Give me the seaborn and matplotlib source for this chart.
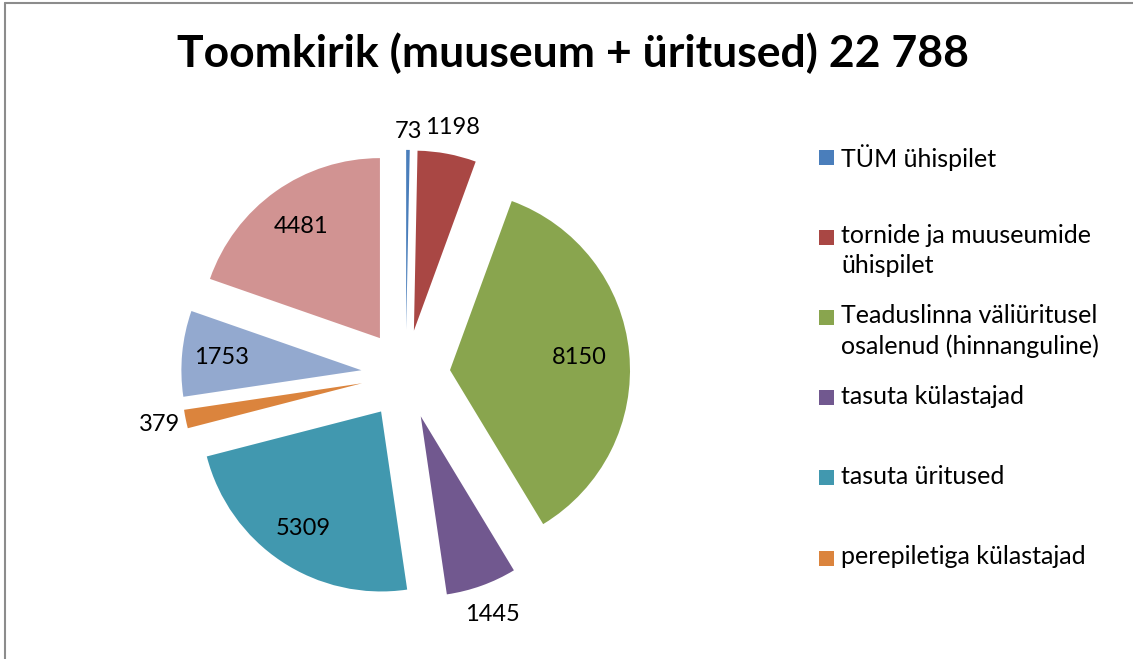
import numpy as np
import matplotlib
matplotlib.use("Agg")
import matplotlib.pyplot as plt
import seaborn as sns
from matplotlib.patches import Rectangle
from matplotlib.lines import Line2D

sns.set_theme(style="white")
plt.rcParams['font.family'] = ['Lato', 'DejaVu Sans']

title = "Toomkirik (muuseum + üritused) 22 788"
categories = ["TÜM ühispilet",
              "tornide ja muuseumide\nühispilet",
              "Teaduslinna väliüritusel\nosalenud (hinnanguline)",
              "tasuta külastajad",
              "tasuta üritused",
              "perepiletiga külastajad",
              "muu 1",
              "muu 2"]
values = [73, 1198, 8150, 1445, 5309, 379, 1753, 4481]
colors = ["#4A7EBB", "#A94744", "#89A54E", "#71588F",
          "#4198AF", "#DB843D", "#93A9CF", "#D19392"]
# label distance from the wedge tip, in radii
label_dist = [1.10, 1.15, 0.72, 1.17, 0.78, 1.15, 0.78, 0.76]
n_legend = 6  # only first six entries fit in the legend box

W, H = 1133, 659
R = 180.0          # pie radius in px
cx, cy = 405.7, 374.4  # pie centre in px (from top)

fig = plt.figure(figsize=(W / 100, H / 100), dpi=100)
ax = fig.add_axes([0, 0, 1, 1])

wedges, _ = ax.pie(values, colors=colors, startangle=90, counterclock=False,
                   explode=[44.5 / R] * len(values), radius=1,
                   wedgeprops=dict(linewidth=0))
ax.set_xlim(-cx / R, (W - cx) / R)
ax.set_ylim(-(H - cy) / R, cy / R)
ax.set_aspect('equal')
ax.axis('off')

for w, v, d in zip(wedges, values, label_dist):
    th = np.deg2rad((w.theta1 + w.theta2) / 2)
    x = w.center[0] + d * w.r * np.cos(th)
    y = w.center[1] + d * w.r * np.sin(th)
    ax.text(x, y, str(v), ha='center', va='center', fontsize=17, color='black')

fig.text(573 / W, 1 - 53 / H, title, ha='center', va='center',
         fontsize=32, fontweight='bold', color='black')

# legend drawn by hand to keep Excel-like spacing
for i, (lab, col) in enumerate(zip(categories[:n_legend], colors[:n_legend])):
    ty = 157 + i * 80.2
    fig.patches.append(Rectangle((819 / W, 1 - (ty + 7.5) / H), 15 / W, 15 / H,
                                 transform=fig.transFigure, facecolor=col,
                                 edgecolor='none'))
    fig.text(841 / W, 1 - (ty - 13) / H, lab, ha='left', va='top',
             fontsize=18, color='black', linespacing=1.38)

# chart border
fig.lines.append(Line2D([5 / W, 5 / W], [0, 1 - 3 / H], transform=fig.transFigure,
                        color='#8C8C8C', lw=1.5))
fig.lines.append(Line2D([5 / W, 1], [1 - 3 / H, 1 - 3 / H], transform=fig.transFigure,
                        color='#8C8C8C', lw=1.5))

fig.savefig("out.png", dpi=100, facecolor='white')
